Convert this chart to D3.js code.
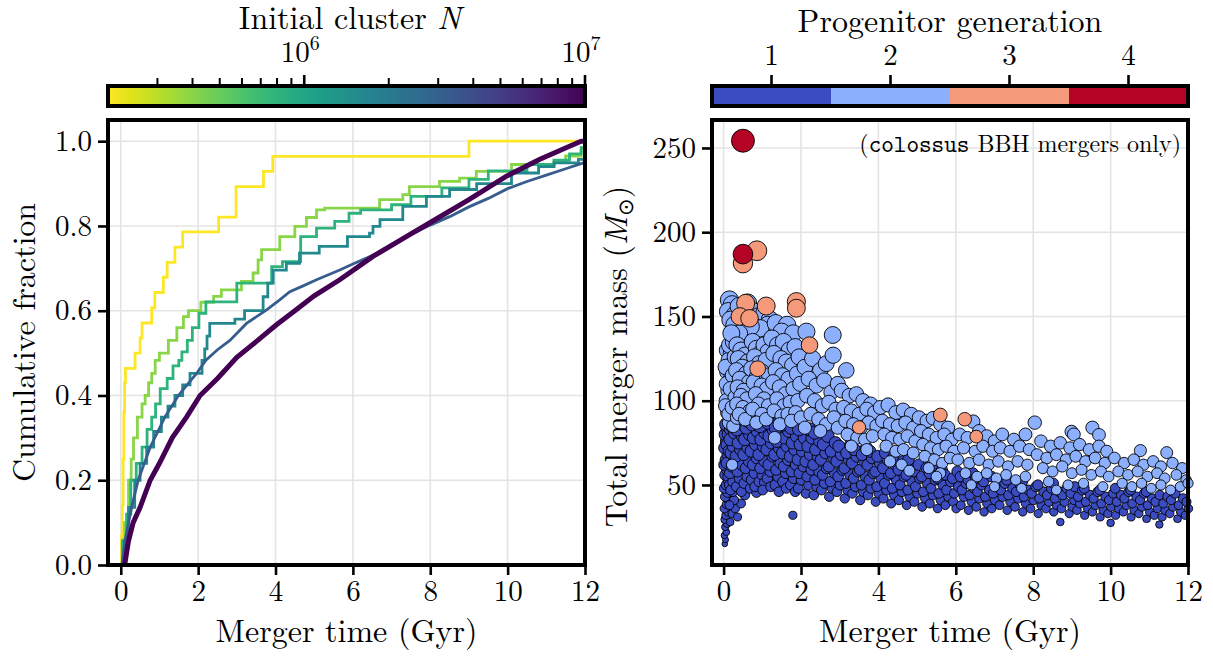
<!DOCTYPE html>
<html><head><meta charset="utf-8">
<script src="https://cdn.jsdelivr.net/npm/d3@7"></script>
<style>
body{margin:0;background:#fff;}
svg{display:block;}
svg text{font-family:"Latin Modern Roman","Liberation Serif",serif;fill:#000;}
</style></head><body>
<svg id="fig" width="1213" height="657"></svg>
<script>
// ---------------- data ----------------
// initial particle number of each simulated cluster
const clusterN = [2e5, 4e5, 8e5, 1.6e6, 3.2e6, 1e7];

// cumulative fraction of mergers vs merger time [Gyr, fraction]
const cdf2e5 = [[0,0],[0.02,0.07],[0.04,0.14],[0.06,0.25],[0.08,0.36],[0.1,0.43],[0.12,0.464],[0.37,0.5],[0.5,0.536],[0.55,0.571],[0.8,0.607],[0.88,0.643],[1.1,0.679],[1.2,0.714],[1.4,0.75],[1.6,0.786],[2.53,0.821],[2.98,0.893],[3.69,0.929],[3.93,0.964],[9.0,1.0],[12,1.0]];
const cdf4e5 = [[0,0],[0.05,0.06],[0.1,0.1],[0.2,0.2],[0.27,0.25],[0.33,0.3],[0.43,0.349],[0.55,0.38],[0.63,0.4],[0.72,0.43],[0.8,0.452],[0.89,0.483],[1.0,0.5],[1.23,0.53],[1.45,0.56],[1.62,0.586],[1.75,0.6],[2.07,0.62],[2.4,0.634],[2.6,0.649],[3.12,0.669],[3.42,0.689],[3.55,0.72],[3.64,0.744],[4.11,0.775],[4.5,0.799],[4.8,0.82],[5.06,0.838],[5.27,0.842],[6.69,0.862],[7.29,0.874],[7.46,0.893],[8.24,0.905],[8.76,0.913],[9.19,0.929],[10.1,0.945],[11.2,0.953],[11.5,0.965],[11.9,0.976],[12,0.976]];
const cdf8e5 = [[0,0],[0.04,0.057],[0.15,0.12],[0.26,0.2],[0.4,0.24],[0.55,0.278],[0.68,0.32],[0.8,0.349],[0.9,0.38],[1.02,0.416],[1.2,0.44],[1.35,0.47],[1.5,0.483],[1.58,0.503],[1.72,0.53],[1.85,0.56],[2.02,0.594],[2.2,0.621],[3.0,0.665],[3.9,0.704],[4.18,0.716],[4.65,0.775],[5.06,0.795],[5.53,0.811],[5.9,0.83],[6.2,0.838],[7.0,0.85],[7.5,0.87],[8.3,0.89],[9.0,0.91],[9.5,0.93],[10.5,0.945],[11.2,0.955],[11.6,0.97],[11.9,0.985],[12,0.985]];
const cdf1p6e6 = [[0,0],[0.09,0.057],[0.2,0.136],[0.36,0.2],[0.5,0.24],[0.67,0.278],[0.85,0.315],[1.05,0.349],[1.22,0.375],[1.4,0.4],[1.6,0.425],[1.79,0.452],[2.1,0.483],[2.17,0.51],[2.23,0.54],[2.3,0.57],[2.95,0.58],[3.2,0.6],[3.68,0.633],[3.8,0.665],[3.94,0.696],[4.28,0.712],[4.62,0.736],[5.13,0.752],[5.86,0.775],[6.43,0.783],[6.52,0.799],[6.7,0.815],[7.29,0.846],[7.9,0.87],[8.5,0.886],[9.2,0.9],[10.1,0.925],[10.8,0.94],[11.2,0.949],[11.83,0.957],[12,0.965]];
const cdf3p2e6 = [[0.03,0],[0.11,0.057],[0.28,0.136],[0.45,0.2],[0.76,0.278],[1.14,0.349],[1.49,0.4],[1.96,0.452],[2.2,0.483],[2.5,0.508],[2.82,0.53],[3.25,0.57],[3.77,0.602],[4.1,0.625],[4.37,0.645],[4.7,0.658],[5.06,0.673],[5.66,0.696],[6.0,0.71],[6.5,0.73],[7.0,0.755],[7.4,0.775],[8.0,0.802],[8.5,0.822],[9.0,0.845],[9.5,0.865],[10.0,0.888],[10.5,0.905],[11.0,0.92],[11.5,0.935],[12,0.95]];
const cdf1e7 = [[0.1,0],[0.2,0.057],[0.32,0.1],[0.5,0.136],[0.76,0.2],[1.0,0.24],[1.33,0.3],[1.7,0.349],[2.05,0.4],[2.5,0.44],[3.0,0.49],[3.5,0.527],[4.0,0.565],[4.5,0.6],[5.0,0.635],[5.66,0.673],[6.52,0.728],[7.38,0.775],[7.98,0.807],[9.0,0.862],[9.96,0.917],[10.82,0.957],[11.6,0.988],[11.9,1.0],[12,1.0]];

// BBH mergers [merger time Gyr, total mass Msun], by progenitor generation
const gen1Mergers = [
[0.03,15],[0.05,17.5],[0.02,20],[0.07,22],[0.04,25],[0.09,27],[0.03,29.5],[0.06,32],[0.11,34],[0.02,36],[0.08,38.5],[0.13,41],[0.04,43],[0.1,45.5],[0.02,48],[0.07,50],[0.12,53],[0.04,56],[0.09,59],[0.02,62],[0.06,65],[0.11,68],[0.03,72],[0.08,76],[0.05,80],[0.1,84],
[0.17,28],[0.22,33],[0.3,36],[0.36,31],[0.45,39],[0.27,41],[0.15,38],
[0.07,86],[0.13,80],[0.19,83],[0.09,74],[0.23,77],[0.14,70],[0.26,67],[0.08,63],[0.2,58],[0.12,55],[0.3,54],[0.15,50],[0.24,46],[0.31,60],[0.35,70],[0.39,64],[0.28,88],[0.33,78],[0.5,90],[0.6,91],[0.8,90],[1.0,89],[1.2,90],[0.4,50],[0.55,44],[0.7,58],[0.9,63],[1.1,59],[1.3,56],[1.5,58],[1.7,54],[1.9,52],
[0.18,47],[0.24,52],[0.16,57],[0.21,61],[0.28,65],[0.19,69],[0.25,73],[0.17,77],[0.29,81],[0.22,85],[0.26,89],
[0.33,49],[0.41,54],[0.36,58],[0.47,62],[0.32,67],[0.44,71],[0.38,75],[0.49,79],[0.34,83],[0.42,87],[0.46,46],
[0.53,51],[0.61,55],[0.57,60],[0.66,64],[0.52,68],[0.63,72],[0.55,77],[0.68,80],[0.59,84],[0.64,88],[0.69,48],
[0.72,53],[0.8,57],[0.76,62],[0.86,66],[0.71,70],[0.83,74],[0.78,78],[0.88,82],[0.74,86],[0.85,45.5],[0.81,49],
[0.92,52],[1.0,56],[0.95,60],[1.06,64],[0.91,68],[1.03,73],[0.97,77],[1.08,81],[0.94,85],[1.06,51.4],[1.01,47],
[1.13,54],[1.21,58],[1.16,62],[1.27,67],[1.12,71],[1.24,75],[1.18,79],[1.29,83],[1.15,87],[1.22,49],
[1.33,50],[1.41,55],[1.36,59],[1.47,63],[1.32,68],[1.44,72],[1.38,76],[1.49,80],[1.35,84],[1.43,46],
[1.53,52],[1.61,57],[1.56,61],[1.67,65],[1.52,69],[1.64,73],[1.58,78],[1.69,82],[1.55,86],[1.62,48],
[1.79,32],[1.73,50],[1.81,54],[1.76,58],[1.87,62],[1.72,67],[1.84,71],[1.78,75],[1.89,79],[1.75,84],[1.85,46],
[1.93,48],[2.01,53],[1.96,57],[2.07,61],[1.92,65],[2.04,70],[1.98,74],[2.09,78],[1.95,83],
[2.13,45],[2.2,50],[2.16,55],[2.27,59],[2.12,64],[2.24,68],[2.18,73],[2.29,78],[2.22,83],
[2.33,44],[2.41,49],[2.36,53],[2.47,58],[2.32,62],[2.44,67],[2.38,71],[2.49,76],[2.35,81],
[2.53,47],[2.61,51],[2.56,56],[2.67,60],[2.52,65],[2.64,69],[2.58,74],[2.69,79],
[2.73,43],[2.81,48],[2.76,52],[2.87,57],[2.72,61],[2.84,66],[2.78,70],[2.89,75],
[2.93,46],[3.01,50],[2.96,55],[3.07,59],[2.92,64],[3.04,68],[2.98,73],
[3.13,42],[3.21,47],[3.16,51],[3.27,56],[3.12,60],[3.24,65],[3.18,69],[3.29,74],
[3.33,45],[3.41,49],[3.36,54],[3.47,58],[3.32,63],[3.44,67],[3.38,71],
[3.53,41],[3.61,46],[3.56,50],[3.67,55],[3.52,59],[3.64,64],[3.58,68],[3.69,72],
[3.73,44],[3.81,48],[3.76,53],[3.87,57],[3.72,62],[3.84,66],[3.78,70],
[3.93,40],[4.01,45],[3.96,49],[4.07,54],[3.92,58],[4.04,63],[3.98,67],
[4.13,42],[4.21,47],[4.16,51],[4.27,56],[4.12,60],[4.24,65],[4.18,69],
[4.33,39],[4.41,44],[4.36,48],[4.47,53],[4.32,57],[4.44,62],[4.38,66],
[4.53,41],[4.61,46],[4.56,50],[4.67,55],[4.52,59],[4.64,64],
[4.73,38],[4.81,43],[4.76,47],[4.87,52],[4.72,56],[4.84,61],[4.78,65],
[4.93,40],[5.01,45],[4.96,49],[5.07,54],[4.92,58],[5.04,62],
[5.13,37],[5.21,42],[5.16,46],[5.27,51],[5.12,55],[5.24,60],
[5.33,39],[5.41,44],[5.36,48],[5.47,53],[5.32,57],[5.44,62],
[5.53,36],[5.61,41],[5.56,45],[5.67,50],[5.52,54],[5.64,59],
[5.73,38],[5.81,43],[5.76,47],[5.87,52],[5.72,56],
[5.93,40],[6.01,36],[5.96,45],[6.07,49],[5.92,54],[6.04,58],
[6.13,38],[6.21,43],[6.16,47],[6.27,51],[6.12,55],
[6.33,35],[6.41,40],[6.36,44],[6.47,48],[6.32,53],[6.44,57],
[6.53,37],[6.61,42],[6.56,46],[6.67,50],[6.52,54],
[6.73,34],[6.81,39],[6.76,43],[6.87,47],[6.72,52],
[6.93,36],[7.01,41],[6.96,45],[7.07,49],[6.92,55],
[7.13,38],[7.21,43],[7.16,47],[7.27,51],
[7.33,35],[7.41,40],[7.36,44],[7.47,48],[7.32,53],
[7.53,37],[7.61,42],[7.56,46],[7.67,50],
[7.73,34],[7.81,39],[7.76,43],[7.87,47],[7.72,52],
[7.93,36],[8.01,41],[7.96,45],[8.07,49],
[8.13,33],[8.21,38],[8.16,42],[8.27,46],[8.12,50],
[8.33,36],[8.41,40],[8.36,44],[8.47,48],
[8.53,34],[8.61,38],[8.56,42],[8.67,46],[8.52,51],
[8.7,28],[8.73,36],[8.81,40],[8.76,44],[8.87,48],
[8.93,33],[9.01,37],[9.06,41],[8.97,45],[9.07,49],
[9.13,35],[9.21,39],[9.16,43],[9.27,47],
[9.33,32],[9.41,36],[9.36,40],[9.47,44],[9.32,48],
[9.53,34],[9.61,38],[9.56,42],[9.67,46],
[9.73,31],[9.81,35],[9.76,39],[9.87,43],[9.72,47],
[9.93,33],[10.0,27.5],[10.01,37],[9.96,41],[10.07,45],
[10.13,32],[10.21,36],[10.16,40],[10.27,44],[10.12,48],
[10.33,34],[10.41,38],[10.36,42],[10.47,46],
[10.53,31],[10.61,35],[10.56,39],[10.67,43],[10.52,47],
[10.73,33],[10.81,37],[10.76,41],[10.87,45],
[10.93,30],[11.01,34],[10.96,38],[11.07,42],[10.92,46],
[11.13,32],[11.21,36],[11.16,40],[11.27,44],
[11.26,26.5],[11.33,31],[11.41,35],[11.36,39],[11.47,43],
[11.53,33],[11.61,37],[11.56,41],[11.67,45],
[11.73,30],[11.81,34],[11.76,38],[11.87,42],
[11.93,32],[12.01,36],[11.96,40]
];
const gen2Mergers = [
[0.15,159.8],[0.22,157],[0.12,153],[0.3,151],[0.18,148],[0.4,156],[0.28,145],[0.62,158],[0.75,153],[0.9,150],[1.06,152],[1.2,148],[1.14,145],[0.95,143],[1.35,146],[1.64,145],[1.5,141],[1.8,140],[2.14,141],[2.82,139],[0.5,141],[0.7,144],
[0.1,130],[0.2,128],[0.14,124],[0.25,121],[0.1,117],[0.19,113],[0.28,110],[0.12,106],[0.22,103],[0.16,99],[0.27,96],[0.1,93],[0.2,90],[0.14,87],[0.25,85],
[0.06,120],[0.16,133],[0.08,110],[0.24,115],[0.3,126],[0.07,100],[0.18,107],[0.3,102],[0.05,97],[0.13,92],[0.22,96],[0.35,90],[0.26,135],[0.4,140],[0.2,140],
[0.35,133],[0.45,130],[0.55,127],[0.38,125],[0.62,123],[0.48,120],[0.33,118],[0.58,116],[0.42,113],[0.66,111],[0.36,108],[0.52,106],[0.45,103],[0.6,101],[0.34,98],[0.5,96],[0.68,94],[0.4,92],[0.56,89],[0.22,62],
[0.75,135],[0.85,131],[0.95,128],[1.05,133],[1.15,129],[0.8,126],[0.92,122],[1.1,124],[0.72,119],[1.0,117],[0.86,114],[1.18,115],[0.78,111],[0.98,109],[1.12,107],[0.83,104],[1.04,101],[0.9,98],[1.16,97],[0.75,95],[0.99,92],[0.85,87],[1.1,89],
[1.25,137],[1.4,133],[1.55,135],[1.7,130],[1.85,132],[1.3,128],[1.48,125],[1.62,123],[1.78,121],[1.95,126],[1.35,118],[1.52,115],[1.68,113],[1.9,116],[1.28,111],[1.45,108],[1.6,104],[1.8,107],[1.98,110],[1.38,101],[1.56,97],[1.72,99],[1.92,100],[1.3,94],[1.5,91],[1.66,92],[1.86,93],[1.32,78],[1.45,86],[1.75,88],[2.0,90],
[2.1,120],[2.3,125],[2.5,118],[2.65,122],[2.83,127],[2.2,113],[2.4,109],[2.6,112],[2.78,105],[2.95,110],[2.15,103],[2.35,100],[2.55,97],[2.72,99],[2.9,95],[2.25,92],[2.45,89],[2.65,86],[2.85,90],[2.1,84],[2.5,82],[2.95,84],
[3.17,118],[3.05,106],[3.25,103],[3.43,104],[3.6,100],[3.8,98],[3.1,96],[3.3,94],[3.5,92],[3.7,95],[3.9,93],[3.15,88],[3.35,86],[3.55,84],[3.75,87],[3.95,85],[3.2,80],[3.45,78],[3.65,77],[3.85,79],[3.3,73],[3.7,71],
[4.05,96],[4.25,97.5],[4.45,93],[4.64,94.5],[4.85,92],[4.1,88],[4.3,86],[4.5,85],[4.7,87],[4.9,84],[4.15,80],[4.35,78],[4.55,77],[4.75,79],[4.95,76],[4.2,73],[4.45,70],[4.65,71],[4.9,69],[4.3,64],[4.6,62],[4.8,58.5],
[5.05,90],[5.25,88],[5.41,89.6],[5.6,86],[5.8,84],[5.1,82],[5.3,80],[5.5,78],[5.7,80],[5.9,77],[5.15,74],[5.35,72],[5.55,71],[5.75,73],[5.95,70],[5.2,67],[5.45,65],[5.65,63],[5.85,66],[5.3,60],[5.6,57],[5.5,55],
[6.45,87.6],[6.1,80],[6.3,78],[6.6,82],[6.8,79],[7.0,76],[7.2,80],[7.5,77],[7.8,80],[8.04,87],[6.2,72],[6.5,70],[6.7,73],[6.95,70],[7.15,72],[7.4,70],[7.65,73],[7.9,71],[6.05,65],[6.35,63],[6.6,65],[6.85,62],[7.1,64],[7.35,61],[7.6,64],[7.85,62],[6.25,57],[6.55,55],[6.8,57],[7.05,54],[7.3,56],[7.55,53],[7.8,55],[6.4,50],[7.0,49],[7.7,48],
[8.99,81.6],[9.05,80],[9.53,84],[9.7,79.7],[8.2,76],[8.45,73],[8.7,75],[8.95,72],[9.2,74],[9.45,71],[9.7,73],[9.9,70],[8.1,68],[8.35,66],[8.6,68],[8.85,65],[9.1,67],[9.35,64],[9.6,66],[9.85,63],[8.25,60],[8.5,58],[8.75,61],[9.0,57],[9.25,59],[9.5,56],[9.75,58],[9.95,55],[8.4,52],[8.9,50],[9.3,51],[9.8,49],[8.6,47],
[10.77,70.4],[11.45,69.2],[10.1,66],[10.35,63],[10.6,65],[10.85,62],[11.1,64],[11.3,61],[11.6,63],[11.85,60],[10.2,58],[10.45,56],[10.7,58],[10.95,55],[11.2,57],[11.4,54],[11.7,56],[11.95,53],[10.3,51],[10.55,49],[10.8,51],[11.05,48],[11.3,50],[11.55,47],[11.8,49],[12.0,51]
];
const gen3Mergers = [[0.5,181.6],[0.86,189],[0.57,157.8],[0.42,150],[0.67,148.9],[1.1,156.2],[1.88,158.8],[1.88,154.9],[2.22,133],[0.88,119],[3.5,84.2],[5.6,91.5],[6.23,89],[6.53,78.7]];
const gen4Mergers = [[0.5,254.3],[0.5,187]];

// axis ticks and colour bar ticks
const timeTicks = [0, 2, 4, 6, 8, 10, 12];
const fractionTicks = [0, 0.2, 0.4, 0.6, 0.8, 1.0];
const massTicks = [50, 100, 150, 200, 250];
const nMajorTicks = [1e6, 1e7];
const nMinorTicks = [3e5,4e5,5e5,6e5,7e5,8e5,9e5,2e6,3e6,4e6,5e6,6e6,7e6,8e6,9e6];
const generationTicks = [1, 2, 3, 4];
const generationColors = ["#3b4cc0", "#8db0fe", "#f49a7b", "#b40426"];

// ---------------- drawing ----------------
const svg = d3.select("#fig");
const SERIF = "'Latin Modern Roman','Liberation Serif',serif";
const MONO = "'Latin Modern Mono','Liberation Mono','DejaVu Sans Mono',monospace";
const FRAME = 4, GRID = "#e4e4e4";
const TICK_FS = "29px", LABEL_FS = "32px";
const left = {x0: 108, x1: 585, y0: 120, y1: 565};
const right = {x0: 712, x1: 1188, y0: 120, y1: 565};

const nScale = d3.scaleLog().domain([2e5, 1e7]);
const nColor = n => d3.interpolateViridis(1 - nScale(n));

const axisStyle = (g) => {
  g.attr("font-family", null).attr("font-size", null);
  g.select(".domain").remove();
  g.selectAll(".tick line").attr("stroke", "#000").attr("stroke-width", 2.6);
  g.selectAll(".tick text").style("font-family", SERIF).style("font-size", TICK_FS);
};

// ===== left panel: cumulative fractions =====
const xL = d3.scaleLinear().domain([-0.33, 12]).range([left.x0, left.x1]);
const yL = d3.scaleLinear().domain([0, 1.05]).range([left.y1, left.y0]);

const gL = svg.append("g");
gL.append("g").selectAll("line").data(timeTicks).join("line")
  .attr("x1", d => xL(d)).attr("x2", d => xL(d)).attr("y1", left.y0).attr("y2", left.y1)
  .attr("stroke", GRID).attr("stroke-width", 1.6);
gL.append("g").selectAll("line").data(fractionTicks.slice(1)).join("line")
  .attr("y1", d => yL(d)).attr("y2", d => yL(d)).attr("x1", left.x0).attr("x2", left.x1)
  .attr("stroke", GRID).attr("stroke-width", 1.6);

const cdfs = [cdf2e5, cdf4e5, cdf8e5, cdf1p6e6, cdf3p2e6, cdf1e7];
const stepLine = d3.line().x(d => xL(d[0])).y(d => yL(d[1])).curve(d3.curveStepAfter);
const smoothLine = d3.line().x(d => xL(d[0])).y(d => yL(d[1]));
cdfs.forEach((pts, i) => {
  const last = i === cdfs.length - 1;
  gL.append("path").datum(pts)
    .attr("d", i >= 4 ? smoothLine : stepLine)
    .attr("fill", "none")
    .attr("stroke", nColor(clusterN[i]))
    .attr("stroke-width", last ? 5 : 2.8)
    .attr("stroke-linejoin", "miter");
});

gL.append("g").attr("transform", `translate(0,${left.y1})`)
  .call(d3.axisBottom(xL).tickValues(timeTicks).tickSize(10).tickPadding(5).tickFormat(d3.format("d")))
  .call(axisStyle);
gL.append("g").attr("transform", `translate(${left.x0},0)`)
  .call(d3.axisLeft(yL).tickValues(fractionTicks).tickSize(10).tickPadding(6).tickFormat(d3.format(".1f")))
  .call(axisStyle);
gL.append("rect").attr("x", left.x0).attr("y", left.y0)
  .attr("width", left.x1 - left.x0).attr("height", left.y1 - left.y0)
  .attr("fill", "none").attr("stroke", "#000").attr("stroke-width", FRAME);

gL.append("text").attr("x", (left.x0 + left.x1) / 2).attr("y", 642)
  .attr("text-anchor", "middle").style("font-size", LABEL_FS)
  .text("Merger time (Gyr)");
gL.append("text").attr("transform", `translate(35,${(left.y0 + left.y1) / 2}) rotate(-90)`)
  .attr("text-anchor", "middle").style("font-size", LABEL_FS)
  .text("Cumulative fraction");

// viridis colour bar for the initial N
const cbY = 86, cbH = 20;
const xN = d3.scaleLog().domain([2e5, 1e7]).range([left.x0, left.x1]);
const defs = svg.append("defs");
const grad = defs.append("linearGradient").attr("id", "viridisN");
d3.range(0, 1.0001, 0.05).forEach(s => {
  grad.append("stop").attr("offset", s).attr("stop-color", d3.interpolateViridis(1 - s));
});
svg.append("rect").attr("x", left.x0).attr("y", cbY).attr("width", left.x1 - left.x0).attr("height", cbH)
  .attr("fill", "url(#viridisN)").attr("stroke", "#000").attr("stroke-width", FRAME);
svg.append("g").selectAll("line").data(nMinorTicks).join("line")
  .attr("x1", d => xN(d)).attr("x2", d => xN(d)).attr("y1", cbY - 2).attr("y2", cbY - 8)
  .attr("stroke", "#000").attr("stroke-width", 2);
svg.append("g").selectAll("line").data(nMajorTicks).join("line")
  .attr("x1", d => xN(d)).attr("x2", d => xN(d)).attr("y1", cbY - 2).attr("y2", cbY - 11)
  .attr("stroke", "#000").attr("stroke-width", 2.6);
const nLab = svg.append("g").selectAll("text").data(nMajorTicks).join("text")
  .attr("x", d => xN(d) - 4).attr("y", 62).attr("text-anchor", "middle").style("font-size", TICK_FS);
nLab.append("tspan").text("10");
nLab.append("tspan").attr("dy", -12).style("font-size", "20px").text(d => Math.round(Math.log10(d)));
const tN = svg.append("text").attr("x", 350).attr("y", 29).attr("text-anchor", "middle").style("font-size", LABEL_FS);
tN.append("tspan").text("Initial cluster ");
tN.append("tspan").style("font-style", "italic").text("N");

// ===== right panel: merger masses =====
const xR = d3.scaleLinear().domain([-0.3, 12]).range([right.x0, right.x1]);
const yR = d3.scaleLinear().domain([2.5, 266.6]).range([right.y1, right.y0]);
const rR = d3.scaleSqrt().domain([0, 255]).range([0, 11.5]);

const gR = svg.append("g");
gR.append("g").selectAll("line").data(timeTicks).join("line")
  .attr("x1", d => xR(d)).attr("x2", d => xR(d)).attr("y1", right.y0).attr("y2", right.y1)
  .attr("stroke", GRID).attr("stroke-width", 1.6);
gR.append("g").selectAll("line").data(massTicks).join("line")
  .attr("y1", d => yR(d)).attr("y2", d => yR(d)).attr("x1", right.x0).attr("x2", right.x1)
  .attr("stroke", GRID).attr("stroke-width", 1.6);

const pts = gR.append("g");
[gen1Mergers, gen2Mergers, gen3Mergers, gen4Mergers].forEach((arr, gi) => {
  pts.append("g").selectAll("circle").data(arr).join("circle")
    .attr("cx", d => xR(d[0])).attr("cy", d => yR(d[1])).attr("r", d => rR(d[1]))
    .attr("fill", generationColors[gi]).attr("stroke", "#000").attr("stroke-width", 0.9);
});

gR.append("g").attr("transform", `translate(0,${right.y1})`)
  .call(d3.axisBottom(xR).tickValues(timeTicks).tickSize(10).tickPadding(5).tickFormat(d3.format("d")))
  .call(axisStyle);
gR.append("g").attr("transform", `translate(${right.x0},0)`)
  .call(d3.axisLeft(yR).tickValues(massTicks).tickSize(10).tickPadding(6).tickFormat(d3.format("d")))
  .call(axisStyle);
gR.append("rect").attr("x", right.x0).attr("y", right.y0)
  .attr("width", right.x1 - right.x0).attr("height", right.y1 - right.y0)
  .attr("fill", "none").attr("stroke", "#000").attr("stroke-width", FRAME);

gR.append("text").attr("x", (right.x0 + right.x1) / 2).attr("y", 642)
  .attr("text-anchor", "middle").style("font-size", LABEL_FS)
  .text("Merger time (Gyr)");
const yLab = gR.append("text").attr("transform", `translate(627,${(right.y0 + right.y1) / 2 + 14}) rotate(-90)`)
  .attr("text-anchor", "middle").style("font-size", LABEL_FS);
yLab.append("tspan").text("Total merger mass (");
yLab.append("tspan").style("font-style", "italic").text("M");
yLab.append("tspan").attr("dy", 6).style("font-size", "21px").text("⊙");
yLab.append("tspan").attr("dy", -6).text(")");

const note = gR.append("text").attr("x", 1181).attr("y", 152).attr("text-anchor", "end").style("font-size", "24px");
note.append("tspan").text("(");
note.append("tspan").style("font-family", MONO).style("font-size", "24px").text("colossus");
note.append("tspan").text(" BBH mergers only)");

// discrete coolwarm colour bar for progenitor generation
const xG = d3.scaleLinear().domain([0.5, 4.5]).range([right.x0, right.x1]);
svg.append("g").selectAll("rect").data(generationTicks).join("rect")
  .attr("x", d => xG(d - 0.5)).attr("y", cbY).attr("width", xG(1.5) - xG(0.5)).attr("height", cbH)
  .attr("fill", (d, i) => generationColors[i]);
svg.append("rect").attr("x", right.x0).attr("y", cbY).attr("width", right.x1 - right.x0).attr("height", cbH)
  .attr("fill", "none").attr("stroke", "#000").attr("stroke-width", FRAME);
svg.append("g").selectAll("line").data(generationTicks).join("line")
  .attr("x1", d => xG(d)).attr("x2", d => xG(d)).attr("y1", cbY - 2).attr("y2", cbY - 11)
  .attr("stroke", "#000").attr("stroke-width", 2.6);
svg.append("g").selectAll("text").data(generationTicks).join("text")
  .attr("x", d => xG(d)).attr("y", 65).attr("text-anchor", "middle").style("font-size", TICK_FS).text(d => d);
svg.append("text").attr("x", 950).attr("y", 32).attr("text-anchor", "middle").style("font-size", LABEL_FS)
  .text("Progenitor generation");
</script>
</body></html>
